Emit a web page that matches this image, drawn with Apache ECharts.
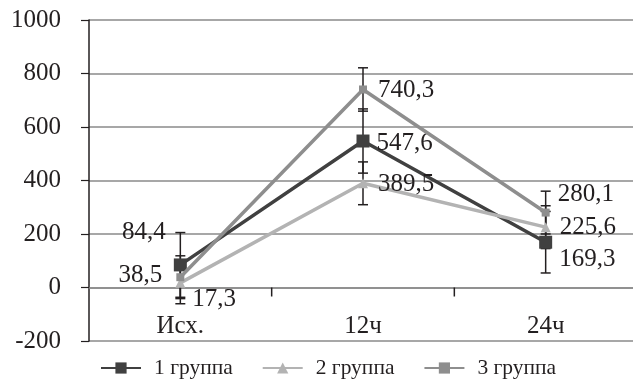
<!DOCTYPE html>
<html>
<head>
<meta charset="utf-8">
<script src="https://cdn.jsdelivr.net/npm/echarts@6/dist/echarts.min.js"></script>
<style>
html,body{margin:0;padding:0;background:#fff;}
#c{width:633px;height:385px;}
</style>
</head>
<body>
<div id="c"></div>
<script>
// ---- data ----
const categories = ['Исх.', '12ч', '24ч'];
const seriesNames = ['1 группа', '2 группа', '3 группа'];
const group1 = [84.4, 547.6, 169.3];
const group2 = [17.3, 389.5, 225.6];
const group3 = [38.5, 740.3, 280.1];
const err1 = [121, 120, 115];
const err2 = [78, 80, 80];
const err3 = [80, 81, 80];
const yTicks = { min: -200, max: 1000, step: 200 };

// ---- styling / label layout (not data) ----
const FONT = '"Liberation Serif", "Times New Roman", serif';
const colors = ['#404040', '#b3b3b3', '#8e8e8e'];
const symbols = ['rect', 'triangle', 'rect'];
const symbolSizes = [13, 10, 8];
// per series, per point: [position, distance, offsetX, offsetY]
const labelLayout = [
  [['left', 5, -3, -32], ['right', 7, 0, 2], ['right', 7, 0, 17]],
  [['right', 5, 2, 17], ['right', 10, 0, 1], ['right', 9, 0, 0]],
  [['left', 14, 0, -2], ['right', 11, 0, 1], ['right', 8, 0, -18]]
];

const fmt = v => v.toFixed(1).replace('.', ',');
const values = [group1, group2, group3];
const errors = [err1, err2, err3];

const lineSeries = values.map((vals, si) => ({
  name: seriesNames[si],
  type: 'line',
  z: 3 + si,
  data: vals.map((v, i) => {
    const L = labelLayout[si][i];
    return {
      value: v,
      label: { show: true, position: L[0], distance: L[1], offset: [L[2], L[3]] }
    };
  }),
  symbol: symbols[si],
  symbolSize: symbolSizes[si],
  showAllSymbol: true,
  lineStyle: { color: colors[si], width: 3.5 },
  itemStyle: { color: colors[si] },
  label: {
    show: true,
    formatter: p => fmt(p.value),
    fontFamily: FONT,
    fontSize: 25,
    color: '#231f20'
  },
  emphasis: { disabled: true },
  animation: false
}));

// error bars + category boundary ticks, drawn through the axes' scales
const errSeries = values.map((vals, si) => ({
  type: 'custom',
  z: 2,
  silent: true,
  animation: false,
  data: vals.map((v, i) => [i, v - errors[si][i], v + errors[si][i]]),
  renderItem: (params, api) => {
    const x = api.value(0);
    const lo = api.coord([x, api.value(1)]);
    const hi = api.coord([x, api.value(2)]);
    const w = 5;
    const st = { stroke: '#231f20', lineWidth: 1.5 };
    const children = [
      { type: 'line', shape: { x1: lo[0], y1: lo[1], x2: hi[0], y2: hi[1] }, style: st },
      { type: 'line', shape: { x1: lo[0] - w, y1: lo[1], x2: lo[0] + w, y2: lo[1] }, style: st },
      { type: 'line', shape: { x1: hi[0] - w, y1: hi[1], x2: hi[0] + w, y2: hi[1] }, style: st }
    ];
    // boundary tick under the zero line, right of this category (drawn once, by series 0)
    if (si === 0 && x < categories.length - 1) {
      const z0 = api.coord([x, 0]);
      const half = api.size([1, 0])[0] / 2;
      children.push({
        type: 'rect',
        shape: { x: z0[0] + half - 0.75, y: z0[1], width: 1.5, height: 9 },
        style: { fill: '#231f20' }
      });
    }
    return { type: 'group', children };
  }
}));

const chart = echarts.init(document.getElementById('c'), null, { renderer: 'canvas' });
chart.setOption({
  backgroundColor: '#fff',
  animation: false,
  grid: { left: 89, top: 20, width: 548, height: 321, containLabel: false, outerBoundsMode: 'none' },
  xAxis: {
    type: 'category',
    data: categories,
    boundaryGap: true,
    axisLine: { onZero: true, lineStyle: { color: '#8a8a8a', width: 1.5 } },
    axisTick: { show: false },
    axisLabel: { margin: -27, fontFamily: FONT, fontSize: 25, color: '#231f20' },
    splitLine: { show: false }
  },
  yAxis: {
    type: 'value',
    min: yTicks.min,
    max: yTicks.max,
    interval: yTicks.step,
    axisLine: { show: true, lineStyle: { color: '#231f20', width: 1.5 } },
    axisTick: { show: true, length: 8, lineStyle: { color: '#231f20', width: 1.2 } },
    axisLabel: { margin: 28, fontFamily: FONT, fontSize: 25, color: '#231f20', formatter: v => String(v) },
    splitLine: { show: true, lineStyle: { color: '#8a8a8a', width: 1.5 } }
  },
  legend: {
    left: 95,
    top: 352,
    itemWidth: 40,
    itemHeight: 14,
    itemGap: 29,
    data: seriesNames,
    textStyle: { fontFamily: FONT, fontSize: 21.5, color: '#231f20', padding: [0, 0, 0, 8] }
  },
  series: [...errSeries, ...lineSeries]
});
</script>
</body>
</html>
